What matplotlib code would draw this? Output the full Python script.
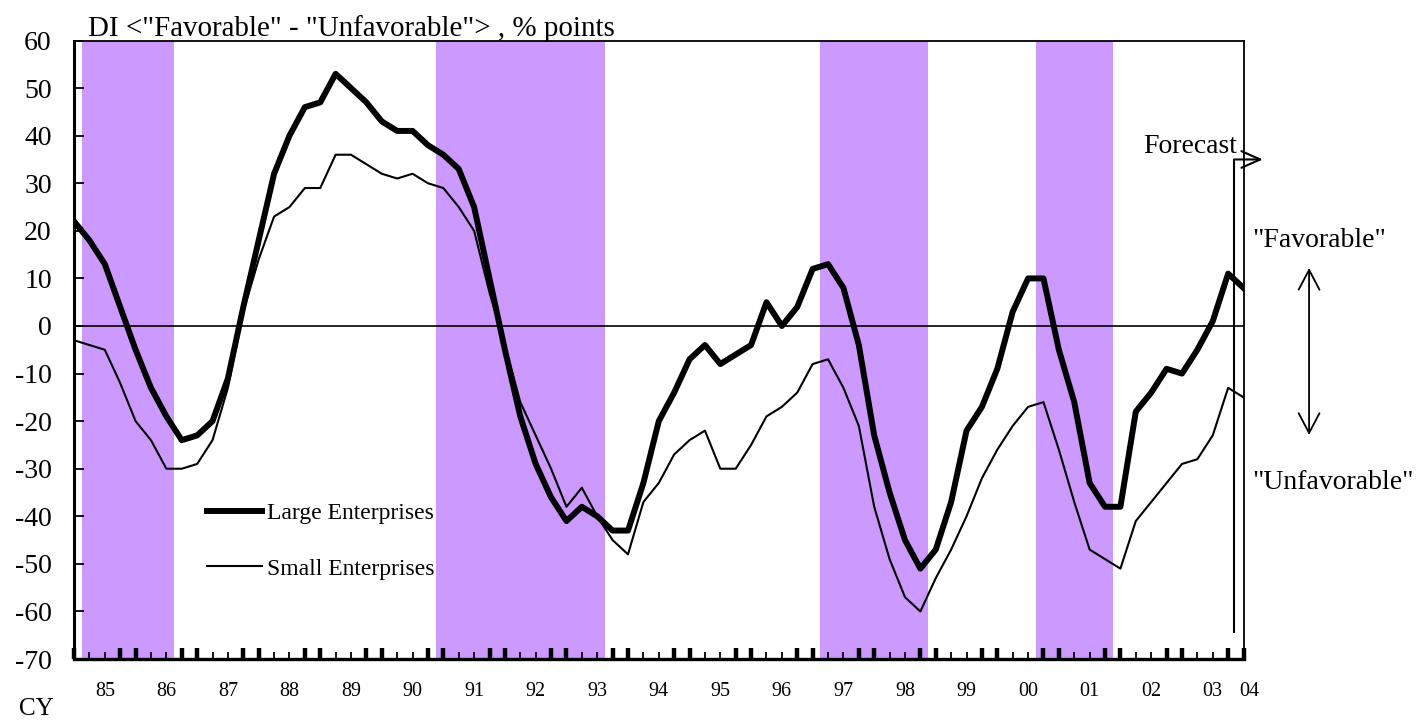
import numpy as np
import matplotlib
matplotlib.use('Agg')
import matplotlib.pyplot as plt

plt.rcParams['font.family'] = ['Liberation Serif', 'DejaVu Serif']
plt.rcParams['axes.unicode_minus'] = False

# quarterly DI, 1985Q1 .. 2004Q1 (last point = forecast)
large = [22, 18, 13, 4, -5, -13, -19, -24, -23, -20, -11,
         4, 18, 32, 40, 46, 47, 53, 50, 47, 43,
         41, 41, 38, 36, 33, 25, 10, -5, -19, -29,
         -36, -41, -38, -40, -43, -43, -33, -20, -14, -7,
         -4, -8, -6, -4, 5, 0, 4, 12, 13, 8,
         -4, -23, -35, -45, -51, -47, -37, -22, -17, -9,
         3, 10, 10, -5, -16, -33, -38, -38, -18, -14,
         -9, -10, -5, 1, 11, 8]
small = [-3, -4, -5, -12, -20, -24, -30, -30, -29, -24, -13,
         3, 14, 23, 25, 29, 29, 36, 36, 34, 32,
         31, 32, 30, 29, 25, 20, 7, -4, -16, -23,
         -30, -38, -34, -40, -45, -48, -37, -33, -27, -24,
         -22, -30, -30, -25, -19, -17, -14, -8, -7, -13,
         -21, -38, -49, -57, -60, -53, -47, -40, -32, -26,
         -21, -17, -16, -26, -37, -47, -49, -51, -41, -37,
         -33, -29, -28, -23, -13, -15]
quarters = np.arange(len(large))

# recession bands, first and last quarter index
band_start = [1, 24, 49, 63]
band_end = [6, 34, 55, 67]

year_labels = ['85', '86', '87', '88', '89', '90', '91', '92', '93', '94',
               '95', '96', '97', '98', '99', '00', '01', '02', '03', '04']
year_pos = [2 + 4 * i for i in range(19)] + [76.4]

fig = plt.figure(figsize=(14.21, 7.2), dpi=100)
ax = fig.add_axes([0.0521, 0.0847, 0.8230, 0.8590])

for s, e in zip(band_start, band_end):
    ax.axvspan(s - 0.5, e + 0.5, color='#CC99FF', lw=0, zorder=0)

ax.axhline(0, color='black', lw=1.2, zorder=2)

ax.plot(quarters, large, color='black', lw=4.3, zorder=3, label='Large Enterprises')
ax.plot(quarters, small, color='black', lw=1.5, zorder=3, label='Small Enterprises')

ax.set_xlim(0, 76)
ax.set_ylim(-70, 60)

# y axis
ax.set_yticks(range(-70, 61, 10))
ax.tick_params(axis='y', direction='in', length=7, width=1.3, labelsize=20, pad=16,
               right=False)

# x axis: thick ticks at Q4/Q1, thin ticks at Q2/Q3
major = [q for q in quarters if q % 4 in (0, 3)]
minor = [q for q in quarters if q % 4 in (1, 2)]
ax.set_xticks(major)
ax.set_xticks(minor, minor=True)
ax.set_xticklabels([])
ax.tick_params(axis='x', which='major', direction='in', length=8, width=3.2, top=False)
ax.tick_params(axis='x', which='minor', direction='in', length=5, width=1.3, top=False)

for x, lab in zip(year_pos, year_labels):
    ax.text(x, -0.053, lab, transform=ax.get_xaxis_transform(), ha='center',
            va='center', fontsize=14.5, clip_on=False)

ax.spines['left'].set_linewidth(2.2)
ax.spines['bottom'].set_linewidth(2.4)
ax.spines['top'].set_linewidth(1.3)
ax.spines['right'].set_linewidth(1.3)

leg = ax.legend(loc='center left', bbox_to_anchor=(0.1137, 0.1907), frameon=False,
                fontsize=17, handlelength=2.35, handletextpad=0.2, labelspacing=1.45,
                borderpad=0, borderaxespad=0)

# forecast marker
ax.vlines(75.4, -64.5, 35, color='black', lw=1.5, zorder=4)
ax.annotate('', xy=(77.25, 35), xytext=(75.4, 35), annotation_clip=False,
            arrowprops=dict(arrowstyle='->,head_length=0.9,head_width=0.4',
                            lw=1.5, color='black', mutation_scale=15,
                            shrinkA=0, shrinkB=0))
ax.text(75.6, 36.3, 'Forecast', ha='right', va='baseline', fontsize=20)

# favorable / unfavorable marker
ax.annotate('', xy=(80.26, 12.2), xytext=(80.26, -22.9), annotation_clip=False,
            arrowprops=dict(arrowstyle='<->,head_length=0.95,head_width=0.5',
                            lw=1.3, color='black', mutation_scale=15,
                            shrinkA=0, shrinkB=0))
ax.text(76.6, 16.6, '"Favorable"', ha='left', va='baseline', fontsize=20, clip_on=False)
ax.text(76.6, -34.2, '"Unfavorable"', ha='left', va='baseline', fontsize=20, clip_on=False)

fig.text(88 / 1421, 0.95, 'DI <"Favorable" - "Unfavorable"> , % points',
         ha='left', va='baseline', fontsize=20.9)
fig.text(36 / 1421, 1 - 709 / 720, 'CY', ha='center', va='center', fontsize=18)

fig.savefig('out.png', dpi=100)
